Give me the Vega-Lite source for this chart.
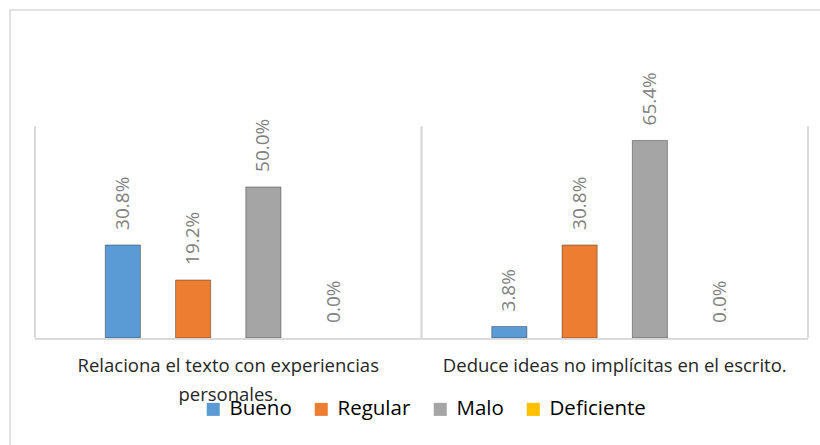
{
  "$schema": "https://vega.github.io/schema/vega-lite/v6.json",
  "width": 823,
  "height": 440,
  "autosize": {"type": "none"},
  "padding": {"left": 10, "top": 10, "right": 0, "bottom": 0},
  "background": "white",
  "config": {
    "view": {"stroke": "#d9d9d9", "strokeWidth": 1.5},
    "font": "Open Sans",
    "scale": {"offsetBandPaddingInner": 0.5, "offsetBandPaddingOuter": 1}
  },
  "data": {
    "values": [
      {"indicador": "Relaciona el texto con experiencias personales.", "nivel": "Bueno", "valor": 0.308},
      {"indicador": "Relaciona el texto con experiencias personales.", "nivel": "Regular", "valor": 0.192},
      {"indicador": "Relaciona el texto con experiencias personales.", "nivel": "Malo", "valor": 0.5},
      {"indicador": "Relaciona el texto con experiencias personales.", "nivel": "Deficiente", "valor": 0.0},
      {"indicador": "Deduce ideas no implícitas en el escrito.", "nivel": "Bueno", "valor": 0.038},
      {"indicador": "Deduce ideas no implícitas en el escrito.", "nivel": "Regular", "valor": 0.308},
      {"indicador": "Deduce ideas no implícitas en el escrito.", "nivel": "Malo", "valor": 0.654},
      {"indicador": "Deduce ideas no implícitas en el escrito.", "nivel": "Deficiente", "valor": 0.0}
    ]
  },
  "layer": [
    {
      "mark": {"type": "bar", "stroke": "#000000", "strokeWidth": 1},
      "encoding": {
        "x": {
          "field": "indicador",
          "type": "nominal",
          "sort": null,
          "scale": {"paddingInner": 0, "paddingOuter": 0.0647},
          "axis": {
            "orient": "bottom",
            "offset": -111,
            "title": null,
            "domain": false,
            "ticks": false,
            "grid": false,
            "labelAngle": 0,
            "labelFont": "Open Sans",
            "labelFontSize": 18.5,
            "labelColor": "#262626",
            "labelPadding": 17,
            "labelBaseline": "top",
            "labelLineHeight": 29,
            "labelLimit": 0,
            "labelOverlap": false,
            "labelExpr": "datum.label == 'Relaciona el texto con experiencias personales.' ? ['Relaciona el texto con experiencias', 'personales.'] : datum.label"
          }
        },
        "xOffset": {
          "field": "nivel",
          "type": "nominal",
          "sort": ["Bueno", "Regular", "Malo", "Deficiente"]
        },
        "y": {
          "field": "valor",
          "type": "quantitative",
          "scale": {"domain": [-0.371, 1.086], "nice": false, "zero": false},
          "axis": null
        },
        "strokeOpacity": {"condition": {"test": "datum.valor == 0", "value": 0}, "value": 0.35},
        "color": {
          "field": "nivel",
          "type": "nominal",
          "sort": ["Bueno", "Regular", "Malo", "Deficiente"],
          "scale": {
            "domain": ["Bueno", "Regular", "Malo", "Deficiente"],
            "range": ["#5B9BD5", "#ED7D31", "#A5A5A5", "#FFC000"]
          },
          "legend": {
            "title": null,
            "orient": "none",
            "direction": "horizontal",
            "legendX": 193,
            "legendY": 389,
            "symbolType": "square",
            "symbolSize": 170,
            "symbolStrokeWidth": 0,
            "labelFont": "Open Sans",
            "labelFontSize": 20.5,
            "labelColor": "#000000",
            "labelOffset": 6,
            "columnPadding": 19,
            "labelLimit": 0
          }
        }
      }
    },
    {
      "mark": {"type": "rule", "color": "#d9d9d9", "strokeWidth": 1.5},
      "encoding": {
        "x": {"field": "indicador", "type": "nominal", "sort": null, "bandPosition": 0},
        "y": {"datum": 0},
        "y2": {"datum": 0.7}
      }
    },
    {
      "transform": [{"filter": "datum.indicador == 'Deduce ideas no implícitas en el escrito.'"}],
      "mark": {"type": "rule", "color": "#d9d9d9", "strokeWidth": 1.5},
      "encoding": {
        "x": {"field": "indicador", "type": "nominal", "sort": null, "bandPosition": 1},
        "y": {"datum": 0},
        "y2": {"datum": 0.7}
      }
    },
    {
      "mark": {"type": "bar", "color": "#d9d9d9"},
      "encoding": {
        "x": {"field": "indicador", "type": "nominal", "sort": null},
        "y": {"datum": 0},
        "y2": {"datum": -0.005}
      }
    },
    {
      "mark": {"type": "text", "angle": 270, "align": "left", "baseline": "middle", "dx": 15, "font": "Open Sans", "fontSize": 19, "color": "#808080"},
      "encoding": {
        "x": {"field": "indicador", "type": "nominal", "sort": null},
        "xOffset": {
          "field": "nivel",
          "type": "nominal",
          "sort": ["Bueno", "Regular", "Malo", "Deficiente"]
        },
        "y": {"field": "valor", "type": "quantitative"},
        "text": {"field": "valor", "type": "quantitative", "format": ".1%"}
      }
    }
  ]
}
